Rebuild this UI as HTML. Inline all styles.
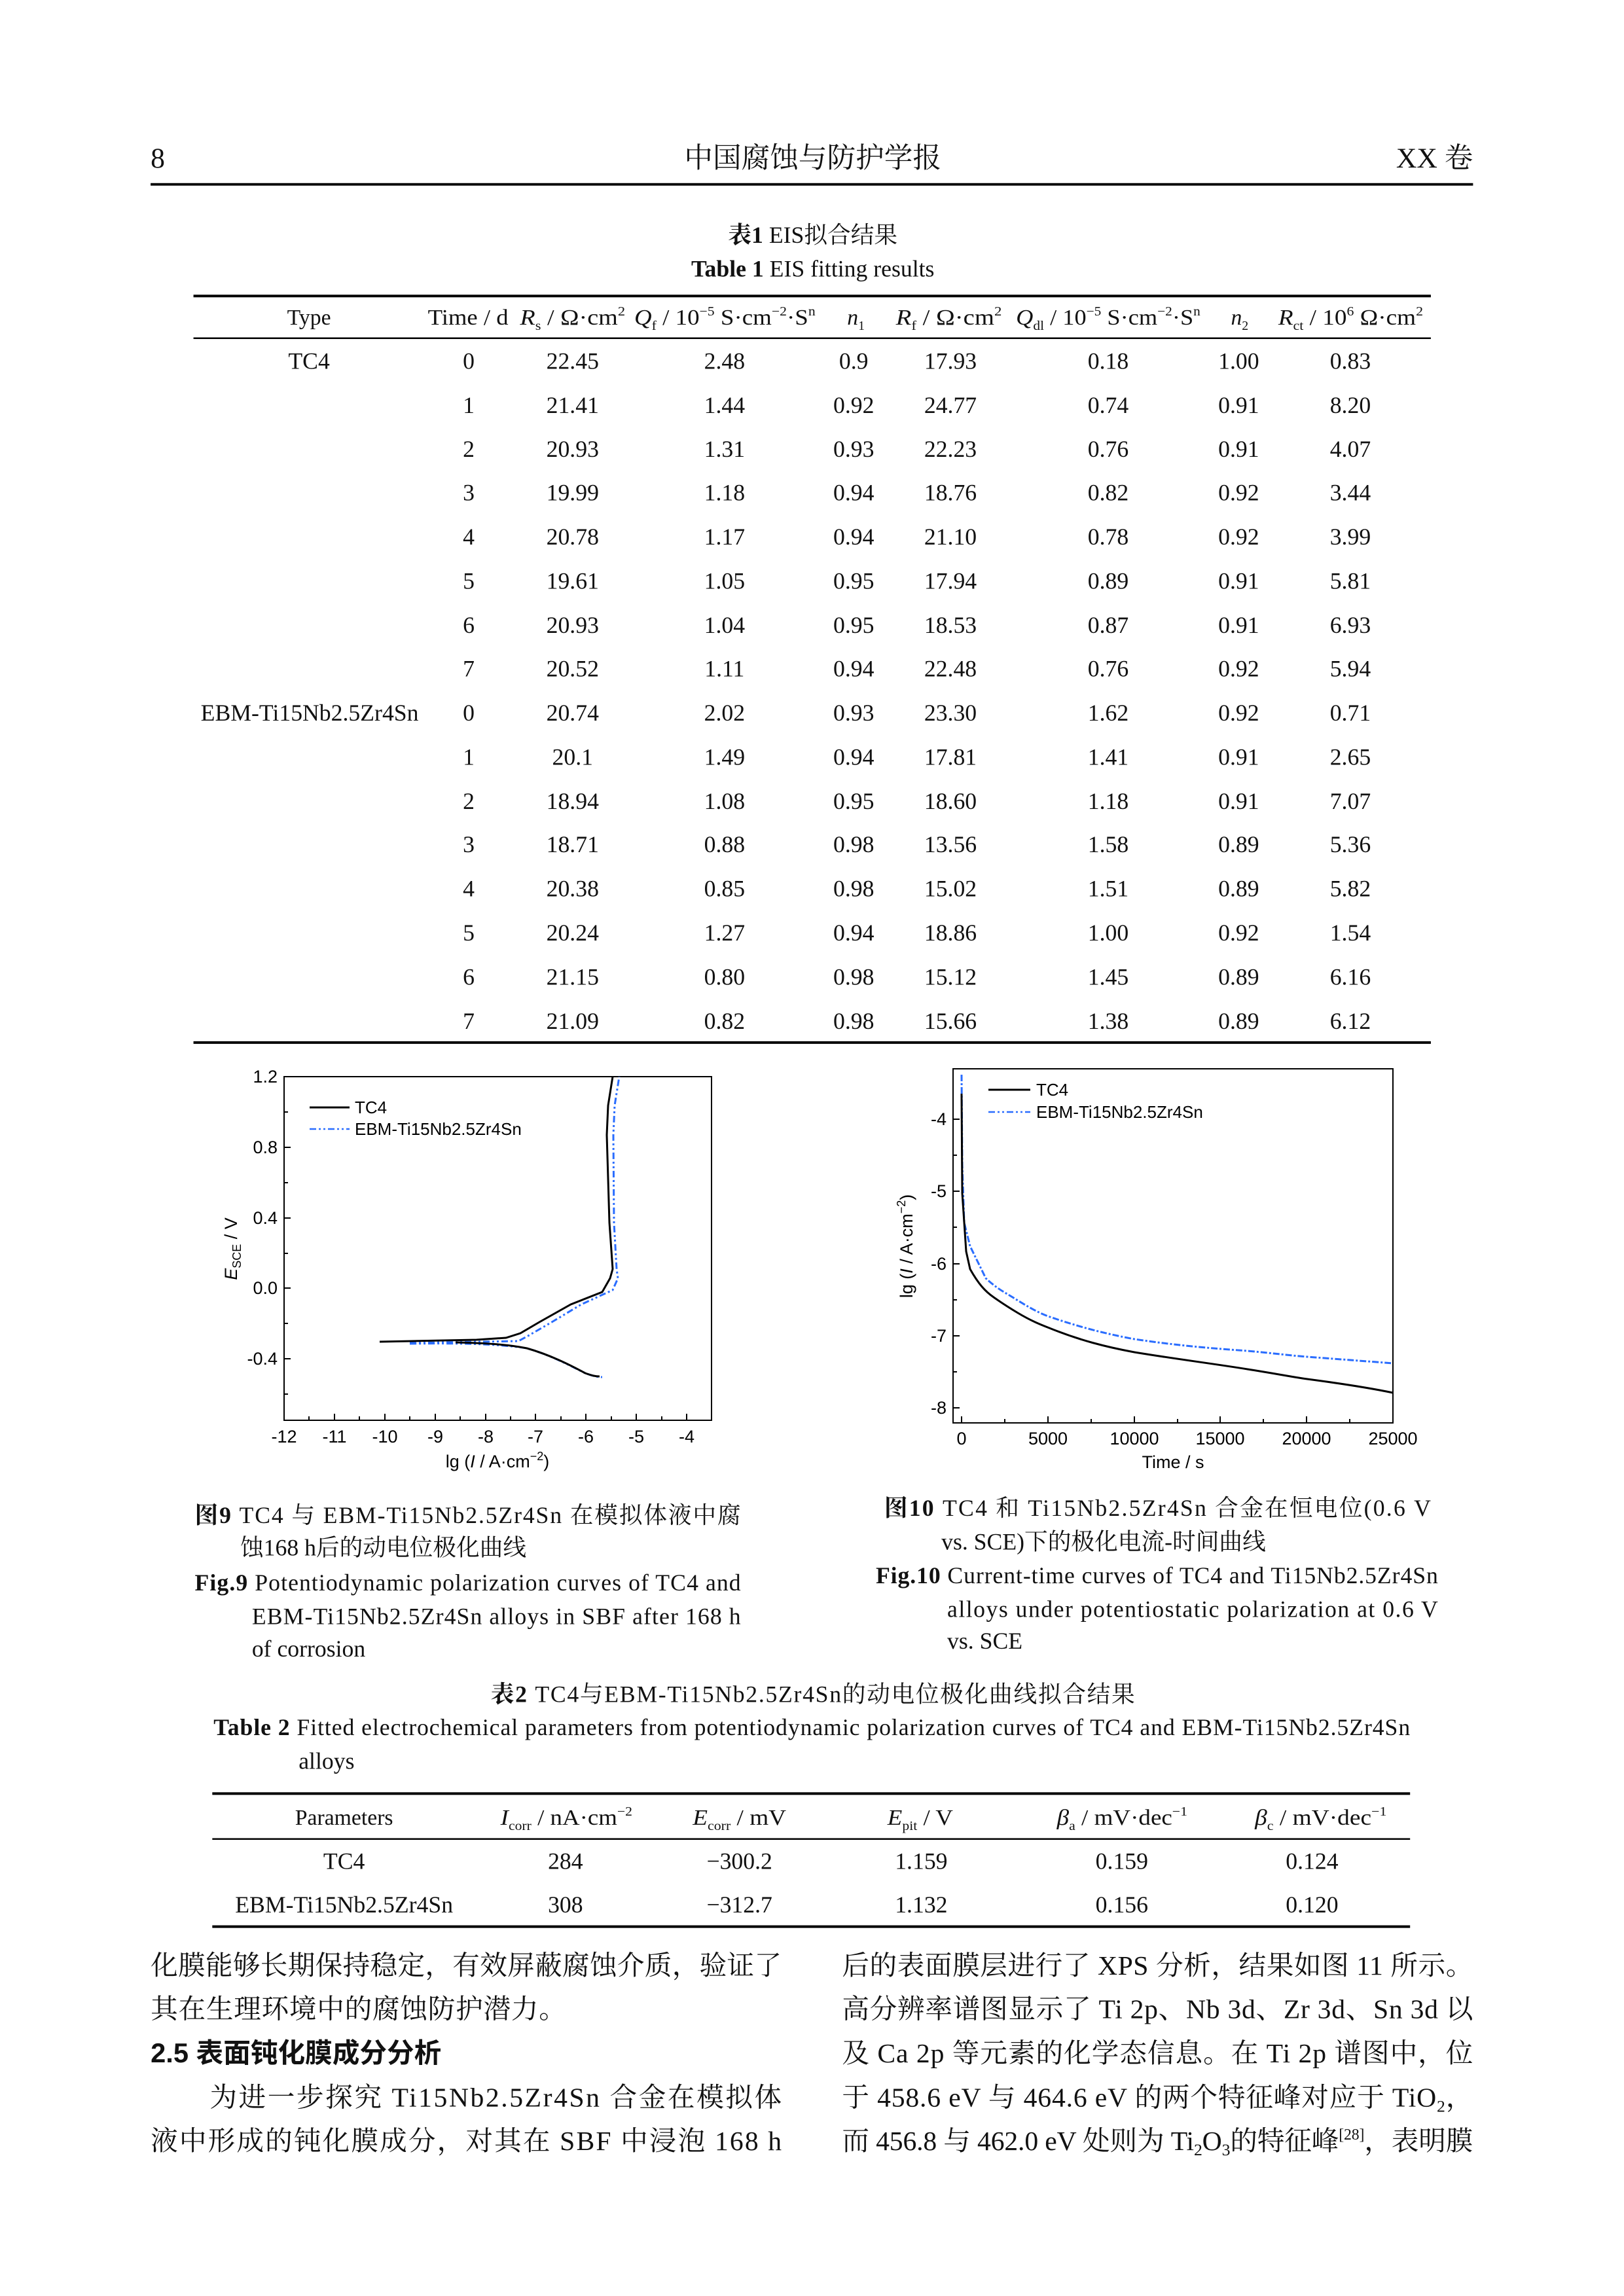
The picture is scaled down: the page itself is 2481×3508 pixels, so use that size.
<!DOCTYPE html>
<html><head><meta charset="utf-8"><style>
html,body{margin:0;padding:0;background:#fff}
svg{display:block}
.s{font-family:"Liberation Serif","Noto Serif CJK SC","Noto Sans CJK SC",serif}
.a{font-family:"Liberation Sans","Noto Sans CJK SC",sans-serif}
</style></head><body>
<svg width="2481" height="3508" viewBox="0 0 2481 3508" xmlns="http://www.w3.org/2000/svg">
<rect width="2481" height="3508" fill="#fff"/>
<g transform="scale(0.9918)">
<g class="s" fill="#111">
<text x="232" y="258" font-size="44">8</text>
<text x="1252" y="258" font-size="44" text-anchor="middle">中国腐蚀与防护学报</text>
<text x="2269" y="258" font-size="44" text-anchor="end">XX 卷</text>
<line x1="232" y1="284" x2="2269" y2="284" stroke="#000" stroke-width="4"/>

<text x="1252" y="374" font-size="36" text-anchor="middle"><tspan font-weight="bold">表1</tspan> EIS拟合结果</text>
<text x="1252" y="426" font-size="36" text-anchor="middle"><tspan font-weight="bold">Table 1</tspan> EIS fitting results</text>
<line x1="298" y1="456" x2="2204" y2="456" stroke="#000" stroke-width="4"/>
<line x1="298" y1="521" x2="2204" y2="521" stroke="#000" stroke-width="2.5"/>
<line x1="298" y1="1606" x2="2204" y2="1606" stroke="#000" stroke-width="4"/>
<g font-size="34">
<text x="476" y="500" text-anchor="middle">Type</text>
<text x="659" y="500" textLength="124" lengthAdjust="spacingAndGlyphs">Time / d</text>
<text x="801" y="500" textLength="162" lengthAdjust="spacingAndGlyphs"><tspan font-style="italic">R</tspan><tspan font-size="20" dy="8">s</tspan><tspan dy="-8"> / Ω·cm</tspan><tspan font-size="20" dy="-14">2</tspan></text>
<text x="977" y="500" textLength="279" lengthAdjust="spacingAndGlyphs"><tspan font-style="italic">Q</tspan><tspan font-size="20" dy="8">f</tspan><tspan dy="-8"> / 10</tspan><tspan font-size="20" dy="-14">−5</tspan><tspan dy="14"> S·cm</tspan><tspan font-size="20" dy="-14">−2</tspan><tspan dy="14">·S</tspan><tspan font-size="20" dy="-14">n</tspan></text>
<text x="1305" y="500" font-style="italic">n<tspan font-size="20" dy="8" font-style="normal">1</tspan></text>
<text x="1380" y="500" textLength="163" lengthAdjust="spacingAndGlyphs"><tspan font-style="italic">R</tspan><tspan font-size="20" dy="8">f</tspan><tspan dy="-8"> / Ω·cm</tspan><tspan font-size="20" dy="-14">2</tspan></text>
<text x="1565" y="500" textLength="284" lengthAdjust="spacingAndGlyphs"><tspan font-style="italic">Q</tspan><tspan font-size="20" dy="8">dl</tspan><tspan dy="-8"> / 10</tspan><tspan font-size="20" dy="-14">−5</tspan><tspan dy="14"> S·cm</tspan><tspan font-size="20" dy="-14">−2</tspan><tspan dy="14">·S</tspan><tspan font-size="20" dy="-14">n</tspan></text>
<text x="1896" y="500" font-style="italic">n<tspan font-size="20" dy="8" font-style="normal">2</tspan></text>
<text x="1969" y="500" textLength="223" lengthAdjust="spacingAndGlyphs"><tspan font-style="italic">R</tspan><tspan font-size="20" dy="8">ct</tspan><tspan dy="-8"> / 10</tspan><tspan font-size="20" dy="-14">6</tspan><tspan dy="14"> Ω·cm</tspan><tspan font-size="20" dy="-14">2</tspan></text>
</g>
<g font-size="36" text-anchor="middle">
<text x="476" y="568">TC4</text>
<text x="477" y="1110">EBM-Ti15Nb2.5Zr4Sn</text>
</g>
<g font-size="36" text-anchor="middle">
<g transform="translate(0,568)">
<text x="722" y="0">0</text><text x="882" y="0">22.45</text><text x="1116" y="0">2.48</text><text x="1315" y="0">0.9</text><text x="1464" y="0">17.93</text><text x="1707" y="0">0.18</text><text x="1908" y="0">1.00</text><text x="2080" y="0">0.83</text></g>
<g transform="translate(0,636)">
<text x="722" y="0">1</text><text x="882" y="0">21.41</text><text x="1116" y="0">1.44</text><text x="1315" y="0">0.92</text><text x="1464" y="0">24.77</text><text x="1707" y="0">0.74</text><text x="1908" y="0">0.91</text><text x="2080" y="0">8.20</text></g>
<g transform="translate(0,704)">
<text x="722" y="0">2</text><text x="882" y="0">20.93</text><text x="1116" y="0">1.31</text><text x="1315" y="0">0.93</text><text x="1464" y="0">22.23</text><text x="1707" y="0">0.76</text><text x="1908" y="0">0.91</text><text x="2080" y="0">4.07</text></g>
<g transform="translate(0,771)">
<text x="722" y="0">3</text><text x="882" y="0">19.99</text><text x="1116" y="0">1.18</text><text x="1315" y="0">0.94</text><text x="1464" y="0">18.76</text><text x="1707" y="0">0.82</text><text x="1908" y="0">0.92</text><text x="2080" y="0">3.44</text></g>
<g transform="translate(0,839)">
<text x="722" y="0">4</text><text x="882" y="0">20.78</text><text x="1116" y="0">1.17</text><text x="1315" y="0">0.94</text><text x="1464" y="0">21.10</text><text x="1707" y="0">0.78</text><text x="1908" y="0">0.92</text><text x="2080" y="0">3.99</text></g>
<g transform="translate(0,907)">
<text x="722" y="0">5</text><text x="882" y="0">19.61</text><text x="1116" y="0">1.05</text><text x="1315" y="0">0.95</text><text x="1464" y="0">17.94</text><text x="1707" y="0">0.89</text><text x="1908" y="0">0.91</text><text x="2080" y="0">5.81</text></g>
<g transform="translate(0,975)">
<text x="722" y="0">6</text><text x="882" y="0">20.93</text><text x="1116" y="0">1.04</text><text x="1315" y="0">0.95</text><text x="1464" y="0">18.53</text><text x="1707" y="0">0.87</text><text x="1908" y="0">0.91</text><text x="2080" y="0">6.93</text></g>
<g transform="translate(0,1042)">
<text x="722" y="0">7</text><text x="882" y="0">20.52</text><text x="1116" y="0">1.11</text><text x="1315" y="0">0.94</text><text x="1464" y="0">22.48</text><text x="1707" y="0">0.76</text><text x="1908" y="0">0.92</text><text x="2080" y="0">5.94</text></g>
<g transform="translate(0,1110)">
<text x="722" y="0">0</text><text x="882" y="0">20.74</text><text x="1116" y="0">2.02</text><text x="1315" y="0">0.93</text><text x="1464" y="0">23.30</text><text x="1707" y="0">1.62</text><text x="1908" y="0">0.92</text><text x="2080" y="0">0.71</text></g>
<g transform="translate(0,1178)">
<text x="722" y="0">1</text><text x="882" y="0">20.1</text><text x="1116" y="0">1.49</text><text x="1315" y="0">0.94</text><text x="1464" y="0">17.81</text><text x="1707" y="0">1.41</text><text x="1908" y="0">0.91</text><text x="2080" y="0">2.65</text></g>
<g transform="translate(0,1246)">
<text x="722" y="0">2</text><text x="882" y="0">18.94</text><text x="1116" y="0">1.08</text><text x="1315" y="0">0.95</text><text x="1464" y="0">18.60</text><text x="1707" y="0">1.18</text><text x="1908" y="0">0.91</text><text x="2080" y="0">7.07</text></g>
<g transform="translate(0,1313)">
<text x="722" y="0">3</text><text x="882" y="0">18.71</text><text x="1116" y="0">0.88</text><text x="1315" y="0">0.98</text><text x="1464" y="0">13.56</text><text x="1707" y="0">1.58</text><text x="1908" y="0">0.89</text><text x="2080" y="0">5.36</text></g>
<g transform="translate(0,1381)">
<text x="722" y="0">4</text><text x="882" y="0">20.38</text><text x="1116" y="0">0.85</text><text x="1315" y="0">0.98</text><text x="1464" y="0">15.02</text><text x="1707" y="0">1.51</text><text x="1908" y="0">0.89</text><text x="2080" y="0">5.82</text></g>
<g transform="translate(0,1449)">
<text x="722" y="0">5</text><text x="882" y="0">20.24</text><text x="1116" y="0">1.27</text><text x="1315" y="0">0.94</text><text x="1464" y="0">18.86</text><text x="1707" y="0">1.00</text><text x="1908" y="0">0.92</text><text x="2080" y="0">1.54</text></g>
<g transform="translate(0,1517)">
<text x="722" y="0">6</text><text x="882" y="0">21.15</text><text x="1116" y="0">0.80</text><text x="1315" y="0">0.98</text><text x="1464" y="0">15.12</text><text x="1707" y="0">1.45</text><text x="1908" y="0">0.89</text><text x="2080" y="0">6.16</text></g>
<g transform="translate(0,1585)">
<text x="722" y="0">7</text><text x="882" y="0">21.09</text><text x="1116" y="0">0.82</text><text x="1315" y="0">0.98</text><text x="1464" y="0">15.66</text><text x="1707" y="0">1.38</text><text x="1908" y="0">0.89</text><text x="2080" y="0">6.12</text></g>
</g>
</g>

<g class="s" fill="#111" font-size="36">
<text x="300" y="2346" textLength="841" lengthAdjust="spacing"><tspan font-weight="bold">图9</tspan> TC4 与 EBM-Ti15Nb2.5Zr4Sn 在模拟体液中腐</text>
<text x="370" y="2396">蚀168 h后的动电位极化曲线</text>
<text x="300" y="2450" textLength="841" lengthAdjust="spacing"><tspan font-weight="bold">Fig.9</tspan> Potentiodynamic polarization curves of TC4 and</text>
<text x="388" y="2502" textLength="753" lengthAdjust="spacing">EBM-Ti15Nb2.5Zr4Sn alloys in SBF after 168 h</text>
<text x="388" y="2552">of corrosion</text>

<text x="1362" y="2335" textLength="842" lengthAdjust="spacing"><tspan font-weight="bold">图10</tspan> TC4 和 Ti15Nb2.5Zr4Sn 合金在恒电位(0.6 V</text>
<text x="1450" y="2387">vs. SCE)下的极化电流-时间曲线</text>
<text x="1349" y="2439" textLength="866" lengthAdjust="spacing"><tspan font-weight="bold">Fig.10</tspan> Current-time curves of TC4 and Ti15Nb2.5Zr4Sn</text>
<text x="1459" y="2491" textLength="756" lengthAdjust="spacing">alloys under potentiostatic polarization at 0.6 V</text>
<text x="1459" y="2540">vs. SCE</text>

<text x="756" y="2622" textLength="992" lengthAdjust="spacing"><tspan font-weight="bold">表2</tspan> TC4与EBM-Ti15Nb2.5Zr4Sn的动电位极化曲线拟合结果</text>
<text x="329" y="2673" textLength="1843" lengthAdjust="spacing"><tspan font-weight="bold">Table 2</tspan> Fitted electrochemical parameters from potentiodynamic polarization curves of TC4 and EBM-Ti15Nb2.5Zr4Sn</text>
<text x="460" y="2725">alloys</text>
</g>

<g class="s" fill="#111">
<line x1="327" y1="2763" x2="2172" y2="2763" stroke="#000" stroke-width="4"/>
<line x1="327" y1="2833" x2="2172" y2="2833" stroke="#000" stroke-width="2.5"/>
<line x1="327" y1="2968" x2="2172" y2="2968" stroke="#000" stroke-width="4"/>
<g font-size="34">
<text x="530" y="2811" text-anchor="middle">Parameters</text>
<text x="771" y="2811" textLength="203" lengthAdjust="spacingAndGlyphs"><tspan font-style="italic">I</tspan><tspan font-size="20" dy="8">corr</tspan><tspan dy="-8"> / nA·cm</tspan><tspan font-size="20" dy="-14">−2</tspan></text>
<text x="1067" y="2811" textLength="144" lengthAdjust="spacingAndGlyphs"><tspan font-style="italic">E</tspan><tspan font-size="20" dy="8">corr</tspan><tspan dy="-8"> / mV</tspan></text>
<text x="1367" y="2811" textLength="101" lengthAdjust="spacingAndGlyphs"><tspan font-style="italic">E</tspan><tspan font-size="20" dy="8">pit</tspan><tspan dy="-8"> / V</tspan></text>
<text x="1628" y="2811" textLength="201" lengthAdjust="spacingAndGlyphs"><tspan font-style="italic">β</tspan><tspan font-size="20" dy="8">a</tspan><tspan dy="-8"> / mV·dec</tspan><tspan font-size="20" dy="-14">−1</tspan></text>
<text x="1933" y="2811" textLength="203" lengthAdjust="spacingAndGlyphs"><tspan font-style="italic">β</tspan><tspan font-size="20" dy="8">c</tspan><tspan dy="-8"> / mV·dec</tspan><tspan font-size="20" dy="-14">−1</tspan></text>
</g>
<g font-size="36" text-anchor="middle">
<text x="530" y="2879">TC4</text><text x="871" y="2879">284</text><text x="1139" y="2879">−300.2</text><text x="1419" y="2879">1.159</text><text x="1728" y="2879">0.159</text><text x="2021" y="2879">0.124</text>
<text x="530" y="2946">EBM-Ti15Nb2.5Zr4Sn</text><text x="871" y="2946">308</text><text x="1139" y="2946">−312.7</text><text x="1419" y="2946">1.132</text><text x="1728" y="2946">0.156</text><text x="2021" y="2946">0.120</text>
</g>
</g>

<g class="s" fill="#111" font-size="42">
<text x="232" y="3042" textLength="972" lengthAdjust="spacing">化膜能够长期保持稳定，有效屏蔽腐蚀介质，验证了</text>
<text x="232" y="3109" textLength="640" lengthAdjust="spacing">其在生理环境中的腐蚀防护潜力。</text>
<text x="232" y="3177" font-weight="bold" class="a">2.5  表面钝化膜成分分析</text>
<text x="323" y="3245" textLength="881" lengthAdjust="spacing">为进一步探究 Ti15Nb2.5Zr4Sn 合金在模拟体</text>
<text x="232" y="3312" textLength="972" lengthAdjust="spacing">液中形成的钝化膜成分，对其在 SBF 中浸泡 168 h</text>
<text x="1297" y="3042" textLength="972" lengthAdjust="spacing">后的表面膜层进行了 XPS 分析，结果如图 11 所示。</text>
<text x="1297" y="3109" textLength="972" lengthAdjust="spacing">高分辨率谱图显示了 Ti 2p、Nb 3d、Zr 3d、Sn 3d 以</text>
<text x="1297" y="3177" textLength="972" lengthAdjust="spacing">及 Ca 2p 等元素的化学态信息。在 Ti 2p 谱图中，位</text>
<text x="1297" y="3245" textLength="972" lengthAdjust="spacing">于 458.6 eV 与 464.6 eV 的两个特征峰对应于 TiO<tspan font-size="26" dy="8">2</tspan><tspan dy="-8">，</tspan></text>
<text x="1297" y="3312" textLength="972" lengthAdjust="spacing">而 456.8 与 462.0 eV 处则为 Ti<tspan font-size="26" dy="8">2</tspan><tspan dy="-8">O</tspan><tspan font-size="26" dy="8">3</tspan><tspan dy="-8">的特征峰</tspan><tspan font-size="24" dy="-16">[28]</tspan><tspan dy="16">，表明膜</tspan></text>
</g>
</g>

<!-- Plot 1 -->
<g class="a" fill="#000">
<rect x="434" y="1645" width="653" height="525" fill="none" stroke="#000" stroke-width="2"/>
<g stroke="#000" stroke-width="2">
<line x1="434" y1="1645" x2="444" y2="1645"/><line x1="434" y1="1699" x2="440" y2="1699"/>
<line x1="434" y1="1753" x2="444" y2="1753"/><line x1="434" y1="1807" x2="440" y2="1807"/>
<line x1="434" y1="1861" x2="444" y2="1861"/><line x1="434" y1="1915" x2="440" y2="1915"/>
<line x1="434" y1="1968" x2="444" y2="1968"/><line x1="434" y1="2022" x2="440" y2="2022"/>
<line x1="434" y1="2076" x2="444" y2="2076"/><line x1="434" y1="2130" x2="440" y2="2130"/>
<line x1="434" y1="2170" x2="434" y2="2160"/><line x1="472" y1="2170" x2="472" y2="2164"/>
<line x1="511" y1="2170" x2="511" y2="2160"/><line x1="549" y1="2170" x2="549" y2="2164"/>
<line x1="588" y1="2170" x2="588" y2="2160"/><line x1="626" y1="2170" x2="626" y2="2164"/>
<line x1="665" y1="2170" x2="665" y2="2160"/><line x1="703" y1="2170" x2="703" y2="2164"/>
<line x1="742" y1="2170" x2="742" y2="2160"/><line x1="780" y1="2170" x2="780" y2="2164"/>
<line x1="818" y1="2170" x2="818" y2="2160"/><line x1="857" y1="2170" x2="857" y2="2164"/>
<line x1="895" y1="2170" x2="895" y2="2160"/><line x1="934" y1="2170" x2="934" y2="2164"/>
<line x1="972" y1="2170" x2="972" y2="2160"/><line x1="1011" y1="2170" x2="1011" y2="2164"/>
<line x1="1049" y1="2170" x2="1049" y2="2160"/>
</g>
<g font-size="27" text-anchor="end">
<text x="424" y="1654">1.2</text><text x="424" y="1762">0.8</text><text x="424" y="1870">0.4</text><text x="424" y="1977">0.0</text><text x="424" y="2085">-0.4</text>
</g>
<g font-size="27" text-anchor="middle">
<text x="434" y="2204">-12</text><text x="511" y="2204">-11</text><text x="588" y="2204">-10</text><text x="665" y="2204">-9</text><text x="742" y="2204">-8</text><text x="818" y="2204">-7</text><text x="895" y="2204">-6</text><text x="972" y="2204">-5</text><text x="1049" y="2204">-4</text>
</g>
<text x="760" y="2242" font-size="27" text-anchor="middle">lg (<tspan font-style="italic">I</tspan> / A·cm<tspan font-size="18" dy="-11">−2</tspan><tspan dy="11">)</tspan></text>
<text transform="translate(362,1908) rotate(-90)" font-size="27" text-anchor="middle"><tspan font-style="italic">E</tspan><tspan font-size="18" dy="6">SCE</tspan><tspan dy="-6"> / V</tspan></text>
<line x1="473" y1="1692" x2="534" y2="1692" stroke="#000" stroke-width="3"/>
<text x="542" y="1701" font-size="26">TC4</text>
<line x1="473" y1="1725" x2="534" y2="1725" stroke="#2a6dff" stroke-width="2.5" stroke-dasharray="10 4 3 4 3 4"/>
<text x="542" y="1734" font-size="26">EBM-Ti15Nb2.5Zr4Sn</text>
<path d="M626,2053 C700,2052 760,2053 805,2060 C840,2070 870,2086 894,2098 C905,2102 912,2104 920,2104" fill="none" stroke="#2a6dff" stroke-width="3" stroke-dasharray="10 4 3 4 3 4"/>
<path d="M626,2052 L792,2049 L805,2042 L843,2020 L888,1993 L936,1971 L944,1953 L942,1939 L938,1868 L937,1734 L939,1689 L946,1645" fill="none" stroke="#2a6dff" stroke-width="3" stroke-dasharray="10 4 3 4 3 4"/>
<path d="M580,2050 L728,2047 L773,2044 L795,2037 L824,2020 L872,1993 L920,1974 L932,1953 L936,1939 L931,1868 L927,1734 L929,1689 L936,1645" fill="none" stroke="#000" stroke-width="3"/>
<path d="M696,2051 C740,2052 775,2054 805,2060 C840,2070 870,2085 894,2098 C905,2102 910,2103 916,2103" fill="none" stroke="#000" stroke-width="3"/>
</g>

<!-- Plot 2 -->
<g class="a" fill="#000">
<rect x="1456" y="1633" width="672" height="541" fill="none" stroke="#000" stroke-width="2"/>
<g stroke="#000" stroke-width="2">
<line x1="1456" y1="1710" x2="1466" y2="1710"/><line x1="1456" y1="1765" x2="1462" y2="1765"/>
<line x1="1456" y1="1820" x2="1466" y2="1820"/><line x1="1456" y1="1875" x2="1462" y2="1875"/>
<line x1="1456" y1="1931" x2="1466" y2="1931"/><line x1="1456" y1="1986" x2="1462" y2="1986"/>
<line x1="1456" y1="2041" x2="1466" y2="2041"/><line x1="1456" y1="2096" x2="1462" y2="2096"/>
<line x1="1456" y1="2151" x2="1466" y2="2151"/>
<line x1="1469" y1="2174" x2="1469" y2="2164"/><line x1="1535" y1="2174" x2="1535" y2="2168"/>
<line x1="1601" y1="2174" x2="1601" y2="2164"/><line x1="1667" y1="2174" x2="1667" y2="2168"/>
<line x1="1733" y1="2174" x2="1733" y2="2164"/><line x1="1799" y1="2174" x2="1799" y2="2168"/>
<line x1="1864" y1="2174" x2="1864" y2="2164"/><line x1="1930" y1="2174" x2="1930" y2="2168"/>
<line x1="1996" y1="2174" x2="1996" y2="2164"/><line x1="2062" y1="2174" x2="2062" y2="2168"/>
</g>
<g font-size="27" text-anchor="end">
<text x="1446" y="1719">-4</text><text x="1446" y="1829">-5</text><text x="1446" y="1940">-6</text><text x="1446" y="2050">-7</text><text x="1446" y="2160">-8</text>
</g>
<g font-size="27" text-anchor="middle">
<text x="1469" y="2207">0</text><text x="1601" y="2207">5000</text><text x="1733" y="2207">10000</text><text x="1864" y="2207">15000</text><text x="1996" y="2207">20000</text><text x="2128" y="2207">25000</text>
</g>
<text x="1792" y="2243" font-size="27" text-anchor="middle">Time / s</text>
<text transform="translate(1394,1904) rotate(-90)" font-size="27" text-anchor="middle">lg (<tspan font-style="italic">I</tspan> / A·cm<tspan font-size="18" dy="-11">−2</tspan><tspan dy="11">)</tspan></text>
<line x1="1510" y1="1665" x2="1574" y2="1665" stroke="#000" stroke-width="3"/>
<text x="1583" y="1674" font-size="26">TC4</text>
<line x1="1510" y1="1699" x2="1574" y2="1699" stroke="#2a6dff" stroke-width="2.5" stroke-dasharray="10 4 3 4 3 4"/>
<text x="1583" y="1708" font-size="26">EBM-Ti15Nb2.5Zr4Sn</text>
<path d="M1469,1642 L1470,1780 L1473,1868 L1482,1904 L1506,1953 C1520,1966 1530,1972 1542,1979 C1565,1993 1580,2003 1601,2011 C1650,2028 1690,2038 1733,2046 C1800,2056 1850,2060 1906,2064 C1950,2068 1970,2071 1997,2073 C2050,2077 2090,2080 2128,2083" fill="none" stroke="#2a6dff" stroke-width="3" stroke-dasharray="10 3 3 3"/>
<path d="M1469,1671 L1470,1823 L1476,1912 L1482,1939 C1495,1962 1505,1973 1518,1982 C1535,1994 1545,2000 1555,2006 C1575,2018 1590,2024 1603,2029 C1650,2048 1690,2058 1733,2066 C1800,2077 1850,2083 1906,2092 C1950,2099 1970,2103 1997,2107 C2050,2114 2090,2120 2128,2128" fill="none" stroke="#000" stroke-width="3"/>
</g>
</svg>
</body></html>
